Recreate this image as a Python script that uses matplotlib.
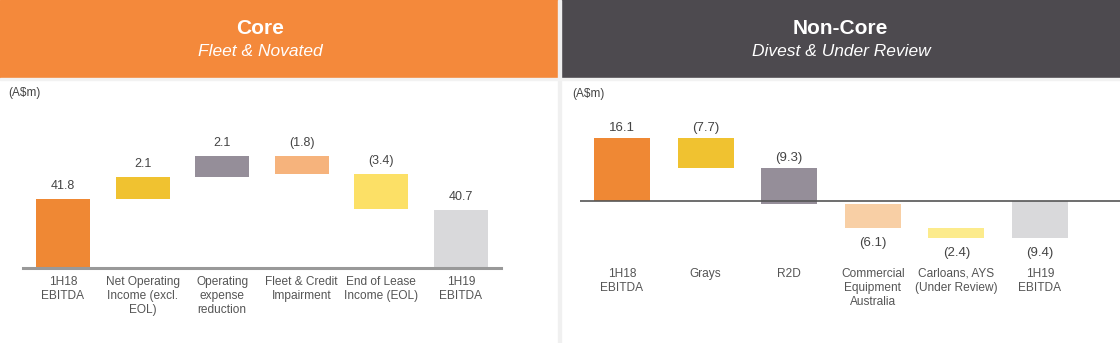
import matplotlib
matplotlib.use('Agg')
import matplotlib.pyplot as plt
from matplotlib.patches import Rectangle
import numpy as np

plt.rcParams['font.family'] = ['Liberation Sans', 'DejaVu Sans']

CORE_CATS = ['1H18\nEBITDA', 'Net Operating\nIncome (excl.\nEOL)', 'Operating\nexpense\nreduction',
             'Fleet & Credit\nImpairment', 'End of Lease\nIncome (EOL)', '1H19\nEBITDA']
CORE_VALUES = [41.8, 2.1, 2.1, -1.8, -3.4, 40.7]
CORE_LABELS = ['41.8', '2.1', '2.1', '(1.8)', '(3.4)', '40.7']
CORE_COLORS = ['#EF8834', '#F0C230', '#958E99', '#F6B37C', '#FCE066', '#D9D9DB']

NONCORE_CATS = ['1H18\nEBITDA', 'Grays', 'R2D', 'Commercial\nEquipment\nAustralia',
                'Carloans, AYS\n(Under Review)', '1H19\nEBITDA']
NONCORE_VALUES = [16.1, -7.7, -9.3, -6.1, -2.4, -9.4]
NONCORE_LABELS = ['16.1', '(7.7)', '(9.3)', '(6.1)', '(2.4)', '(9.4)']
NONCORE_COLORS = ['#EF8834', '#F0C230', '#958E99', '#F8CFA5', '#FCEB8C', '#D9D9DB']

W, H = 1120, 343
fig = plt.figure(figsize=(W / 100, H / 100), dpi=100)
fig.patch.set_facecolor('white')


def px_axes(x0, y0, x1, y1):
    # pixel box (top-left origin) -> figure axes
    return fig.add_axes([x0 / W, 1 - y1 / H, (x1 - x0) / W, (y1 - y0) / H])


def waterfall(values):
    bottoms, heights = [], []
    running = 0.0
    for i, v in enumerate(values):
        if i == 0 or i == len(values) - 1:
            bottoms.append(0.0)
            heights.append(v)
            running = v
        else:
            bottoms.append(running)
            heights.append(v)
            running += v
    return np.array(bottoms), np.array(heights)


# header bands
fig.patches.append(Rectangle((0, 1 - 78 / H), 558 / W, 78 / H, transform=fig.transFigure,
                             color='#F4893B', zorder=0))
fig.patches.append(Rectangle((561 / W, 1 - 78 / H), 559 / W, 78 / H, transform=fig.transFigure,
                             color='#4D4A4F', zorder=0))
# divider and strip under header
fig.patches.append(Rectangle((558 / W, 0), 3 / W, 1, transform=fig.transFigure,
                             color='#F0F0F0', zorder=0))
fig.patches.append(Rectangle((0, 1 - 80 / H), 1, 2 / H, transform=fig.transFigure,
                             color='#F2F2F2', zorder=0))

fig.text(260 / W, 1 - 28 / H, 'Core', color='white', fontsize=15, fontweight='bold',
         ha='center', va='center')
fig.text(260 / W, 1 - 52 / H, 'Fleet & Novated', color='white', fontsize=12.5, style='italic',
         ha='center', va='center')
fig.text(840 / W, 1 - 28 / H, 'Non-Core', color='white', fontsize=15, fontweight='bold',
         ha='center', va='center')
fig.text(841 / W, 1 - 52 / H, 'Divest & Under Review', color='white', fontsize=12.5,
         style='italic', ha='center', va='center')

fig.text(8 / W, 1 - 93 / H, '(A$m)', color='#444444', fontsize=8.5, ha='left', va='center')
fig.text(572 / W, 1 - 94 / H, '(A$m)', color='#444444', fontsize=8.5, ha='left', va='center')

# ---- Core panel
ax1 = px_axes(23.2, 120, 500.8, 267.7)
x = np.arange(len(CORE_VALUES))
b, h = waterfall(CORE_VALUES)
ax1.bar(x, h, bottom=b, width=0.68, color=CORE_COLORS, zorder=2)
ax1.set_xlim(-0.5, 5.5)
ax1.set_ylim(35.05, 49.53)
ax1.axhline(35.05, color='#999999', lw=2.2, zorder=3, clip_on=False)
for i, lab in enumerate(CORE_LABELS):
    top = max(b[i], b[i] + h[i])
    ax1.annotate(lab, (x[i], top), xytext=(0, 5), textcoords='offset points',
                 ha='center', va='bottom', fontsize=9, color='#444444')
ax1.set_xticks(x)
ax1.set_xticklabels(CORE_CATS, fontsize=8.6, color='#555555', linespacing=1.2)
ax1.tick_params(axis='x', length=0, pad=6)
ax1.set_yticks([])
for s in ax1.spines.values():
    s.set_visible(False)
ax1.patch.set_alpha(0)

# ---- Non-Core panel
ax2 = px_axes(580.2, 110, 1120, 261)
x2 = np.arange(len(NONCORE_VALUES))
b2, h2 = waterfall(NONCORE_VALUES)
ax2.bar(x2, h2, bottom=b2, width=0.67, color=NONCORE_COLORS, zorder=2)
ax2.set_xlim(-0.5, 5.957)
ax2.set_ylim(-(261 - 200.7) / 3.92, (200.7 - 110) / 3.92)
ax2.axhline(0, color='#555555', lw=1.2, zorder=3)
for i, lab in enumerate(NONCORE_LABELS):
    top = max(b2[i], b2[i] + h2[i])
    low = min(b2[i], b2[i] + h2[i])
    if top <= 0:
        ax2.annotate(lab, (x2[i], low), xytext=(0, -6.5), textcoords='offset points',
                     ha='center', va='top', fontsize=9.5, color='#444444')
    else:
        ax2.annotate(lab, (x2[i], top), xytext=(0, 2.5), textcoords='offset points',
                     ha='center', va='bottom', fontsize=9.5, color='#444444')
ax2.set_xticks(x2)
ax2.set_xticklabels(NONCORE_CATS, fontsize=8.6, color='#555555', linespacing=1.2)
ax2.tick_params(axis='x', length=0, pad=5)
ax2.set_yticks([])
for s in ax2.spines.values():
    s.set_visible(False)
ax2.patch.set_alpha(0)

fig.savefig('out.png', dpi=100)
